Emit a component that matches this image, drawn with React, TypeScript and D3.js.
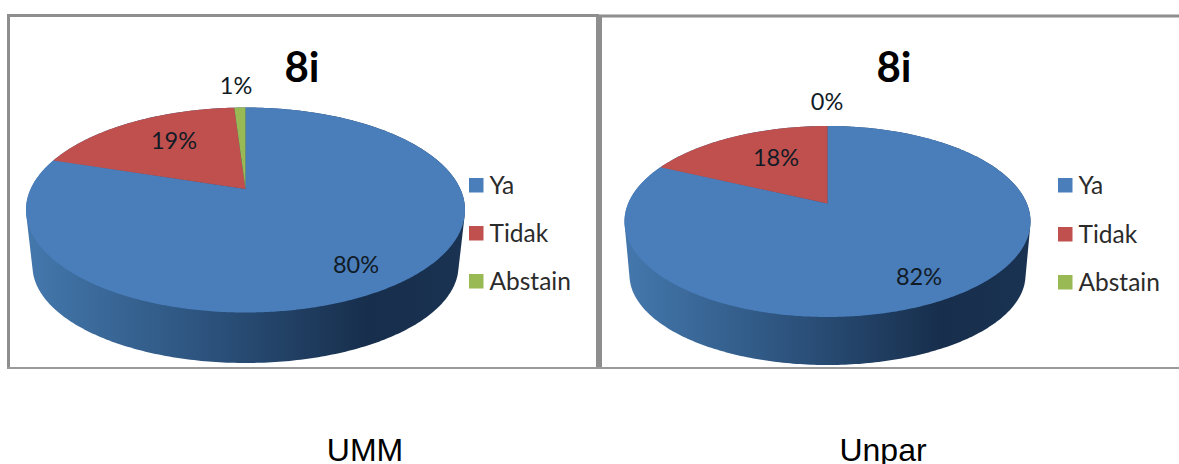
import React from "react";
import * as d3 from "d3";

const categories = ["Ya", "Tidak", "Abstain"];
const ummValues = [80, 19, 1];
const unparValues = [82, 18, 0];
const sliceColors = ["#4a7ebb", "#c0504d", "#98b954"];
const chartTitle = "8i";

type Panel = {
  id: string; caption: string; values: number[];
  cx: number; cy: number; rx: number; ry: number; apexY: number;
  botCy: number; botRx: number; botRy: number;
  titleX: number; labels: [number, number][]; legendX: number; legendY: number[]; captionX: number;
};

const panels: Panel[] = [
  {
    id: "umm", caption: "UMM", values: ummValues,
    cx: 245.5, cy: 210, rx: 219.5, ry: 102.5, apexY: 189,
    botCy: 266, botRx: 213, botRy: 97,
    titleX: 302, labels: [[356, 265], [174, 141], [236, 86]],
    legendX: 469, legendY: [178, 226, 274], captionX: 365,
  },
  {
    id: "unpar", caption: "Unpar", values: unparValues,
    cx: 827.5, cy: 221.5, rx: 203, ry: 95.5, apexY: 203.5,
    botCy: 275, botRx: 198, botRy: 90,
    titleX: 894, labels: [[919, 277], [776, 158], [827, 102]],
    legendX: 1058, legendY: [178, 227, 275], captionX: 883,
  },
];

const labelFont = "Lato, 'Open Sans', sans-serif";
const format = (v: number, total: number) => d3.format(".0%")(v / total);

function PiePanel({ p }: { p: Panel }) {
  const C = p.apexY - p.cy;
  const k = C / p.ry;
  const A = p.rx * Math.sqrt(1 - k * k);
  const project = (a: number, r = 1): [number, number] => {
    const u = r * Math.sin(a);
    const v = -r * Math.cos(a);
    const w = 1 + k * v;
    return [p.cx + (u * A) / w, p.cy + (v * p.ry + C) / w];
  };
  const pie = d3.pie<number>().sort(null);
  const arcs = pie(p.values);
  const total = d3.sum(p.values);
  const line = d3.line();

  const slicePath = (start: number, end: number) => {
    const n = Math.max(2, Math.ceil((end - start) / 0.01));
    const pts = d3.range(n + 1).map((i) => project(start + ((end - start) * i) / n));
    return line([project(0, 0), ...pts])! + "Z";
  };

  const ring = d3.range(0, 360, 1).map((d) => (d * Math.PI) / 180);
  const topRim = ring.map((a) => [p.cx + p.rx * Math.sin(a), p.cy - p.ry * Math.cos(a)] as [number, number]);
  const botRim = ring.map((a) => [p.cx + p.botRx * Math.sin(a), p.botCy - p.botRy * Math.cos(a)] as [number, number]);
  const hull = d3.polygonHull([...topRim, ...botRim])!;
  const gradId = `side-${p.id}`;
  const gx = d3.scaleLinear().domain([0, 1]).range([p.cx - p.rx, p.cx + p.rx]);

  return (
    <g>
      <defs>
        <linearGradient id={gradId} gradientUnits="userSpaceOnUse" x1={gx(0)} x2={gx(1)} y1={0} y2={0}>
          <stop offset="0" stopColor="#4478ad" />
          <stop offset="0.45" stopColor="#2a4f78" />
          <stop offset="0.78" stopColor="#172e4c" />
          <stop offset="1" stopColor="#1a3352" />
        </linearGradient>
      </defs>
      <path d={line(hull)! + "Z"} fill={`url(#${gradId})`} />
      {arcs.map((a, i) =>
        a.endAngle > a.startAngle ? (
          <path key={i} d={slicePath(a.startAngle, a.endAngle)} fill={sliceColors[i]} />
        ) : null
      )}
      <text x={p.titleX} y={82} textAnchor="middle" fontFamily={labelFont} fontWeight={700} fontSize={42} fill="#000">
        {chartTitle}
      </text>
      {p.values.map((v, i) => (
        <text key={i} x={p.labels[i][0]} y={p.labels[i][1]} dy="0.35em" textAnchor="middle" fontFamily={labelFont} fontSize={23.5} fill="#111b26">
          {format(v, total)}
        </text>
      ))}
      {categories.map((c, i) => (
        <g key={c}>
          <rect x={p.legendX} y={p.legendY[i]} width={14.5} height={14.5} fill={sliceColors[i]} />
          <text x={p.legendX + 20.5} y={p.legendY[i] + 7.5} dy="0.36em" fontFamily={labelFont} fontSize={24.5} fill="#2b2b2b">
            {c}
          </text>
        </g>
      ))}
      <text x={p.captionX} y={460.5} textAnchor="middle" fontFamily="'Liberation Sans', Arial, sans-serif" fontSize={32} fill="#000">
        {p.caption}
      </text>
    </g>
  );
}

export default function App() {
  return (
    <svg width={1179} height={464} style={{ position: "absolute", left: 0, top: 0, display: "block" }}>
      <rect width={1179} height={464} fill="#fff" />
      <path d="M8.5,368V15.5H597.5V368" fill="none" stroke="#8e8e8e" strokeWidth={3} />
      <path d="M1179,16H600.5V368" fill="none" stroke="#8e8e8e" strokeWidth={3} />
      <path d="M7,368H1179" stroke="#9a9a9a" strokeWidth={2} />
      {panels.map((p) => (
        <PiePanel key={p.id} p={p} />
      ))}
    </svg>
  );
}
